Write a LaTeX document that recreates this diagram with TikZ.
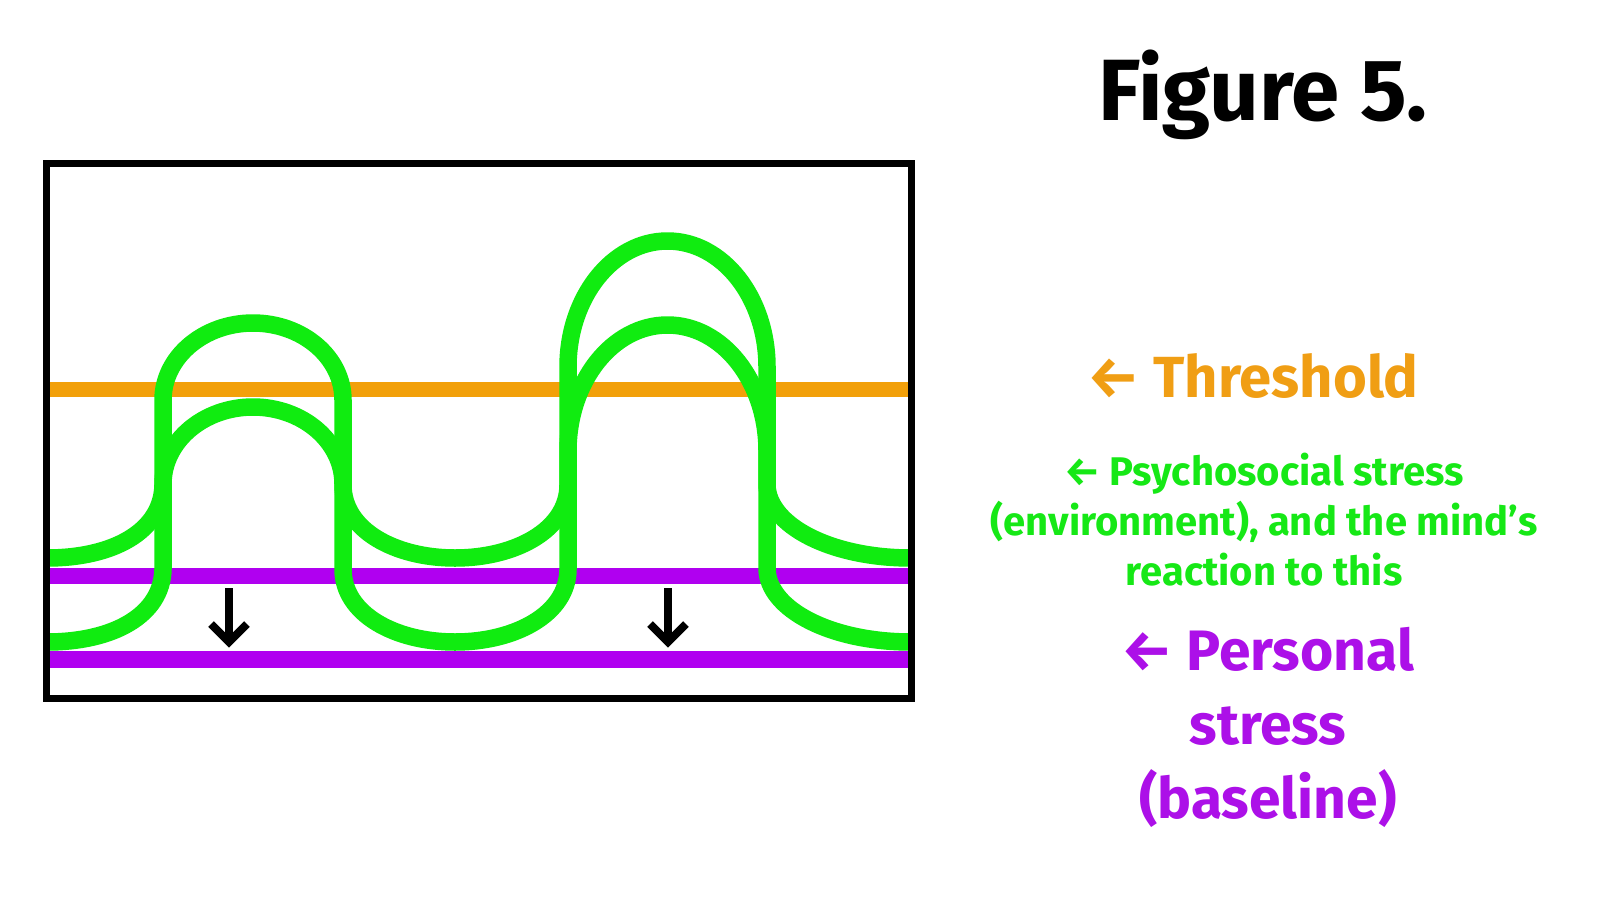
\documentclass[tikz,border=0pt]{standalone}
\usepackage{fontspec}
\setmainfont{Fira Sans}
\definecolor{wavegreen}{RGB}{16,236,16}
\definecolor{thrOrange}{RGB}{242,160,10}
\definecolor{basePurple}{RGB}{176,0,240}
\definecolor{txtGreen}{RGB}{22,232,22}
\definecolor{txtOrange}{RGB}{240,158,20}
\definecolor{txtPurple}{RGB}{172,16,232}
\newcommand\stresswave{(47,558) .. controls (112,558) and (162,532) .. (163,485)
  -- (163,400)
  .. controls (163,357.5) and (203.3,323) .. (253,323)
  .. controls (302.7,323) and (343,357.5) .. (343,400)
  -- (343,485)
  .. controls (343,530) and (395,558) .. (455,558)
  .. controls (515,558) and (568,530) .. (568,485)
  -- (568,367)
  .. controls (568,297.4) and (612.5,241) .. (667.5,241)
  .. controls (722.5,241) and (767,297.4) .. (767,367)
  -- (767,485)
  .. controls (768,525) and (830,558) .. (911,558)}
\begin{document}
\begin{tikzpicture}[x=1pt,y=-1pt,
  wave/.style={draw=wavegreen, line width=17.5pt, line cap=butt},
  thrline/.style={draw=thrOrange, line width=15.5pt},
  baseline line/.style={draw=basePurple, line width=16.5pt},
  frame/.style={draw=black, line width=7pt},
  downarrow/.style={draw=black, line width=8pt, line join=miter},
  lbl/.style={anchor=base, inner sep=0pt, font=\bfseries}]
\useasboundingbox[fill=white] (0,0) rectangle (1600,900);
% horizontal reference lines
\coordinate (thrL) at (46.5,389.5);
\coordinate (thrR) at (911.5,389.5);
\coordinate (b1L) at (46.5,576);
\coordinate (b1R) at (911.5,576);
\coordinate (b2L) at (46.5,659.5);
\coordinate (b2R) at (911.5,659.5);
\draw[thrline] (thrL) -- (thrR);
\draw[baseline line] (b1L) -- (b1R);
\draw[baseline line] (b2L) -- (b2R);
% stress waves
\draw[wave] \stresswave;
\draw[wave, shift={(0,84)}] \stresswave;
% down arrows
\coordinate (a1s) at (229,588);
\coordinate (a1t) at (229,642);
\coordinate (a1l) at (211,624);
\coordinate (a1r) at (247,624);
\coordinate (a2s) at (668,588);
\coordinate (a2t) at (668,642);
\coordinate (a2l) at (650,624);
\coordinate (a2r) at (686,624);
\draw[downarrow] (a1s) -- (a1t);
\draw[downarrow] (a1l) -- (a1t) -- (a1r);
\draw[downarrow] (a2s) -- (a2t);
\draw[downarrow] (a2l) -- (a2t) -- (a2r);
% frame
\draw[frame] (46.5,163.5) rectangle (911.5,698);
% texts
\node[lbl, font=\bfseries\fontsize{87}{100}\selectfont] (title) at (1263,120) {Figure 5.};
\node[lbl, text=txtOrange, font=\bfseries\fontsize{58}{70}\selectfont] (thr) at (1253,397) {← Threshold};
\node[lbl, text=txtGreen, font=\bfseries\fontsize{40}{46}\selectfont] (psy1) at (1264,485) {← Psychosocial stress};
\node[lbl, text=txtGreen, font=\bfseries\fontsize{40}{46}\selectfont] (psy2) at (1264,535) {(environment), and the mind’s};
\node[lbl, text=txtGreen, font=\bfseries\fontsize{40}{46}\selectfont] (psy3) at (1264,585) {reaction to this};
\node[lbl, text=txtPurple, font=\bfseries\fontsize{57}{68}\selectfont] (per1) at (1268,670) {← Personal};
\node[lbl, text=txtPurple, font=\bfseries\fontsize{57}{68}\selectfont] (per2) at (1268,744) {stress};
\node[lbl, text=txtPurple, font=\bfseries\fontsize{57}{68}\selectfont] (per3) at (1268,818) {(baseline)};
\end{tikzpicture}
\end{document}
